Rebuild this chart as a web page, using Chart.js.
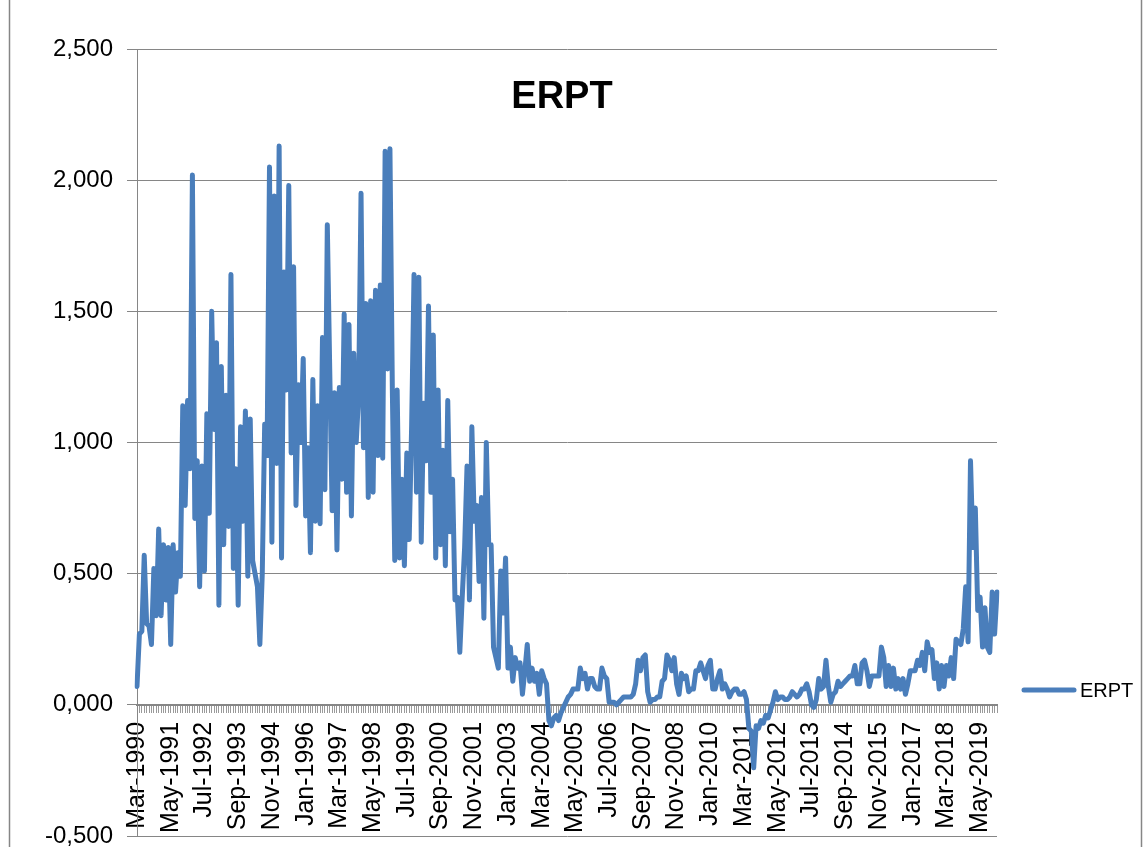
<!DOCTYPE html>
<html lang="en">
<head>
    <meta charset="UTF-8">
    <title>ERPT</title>
    <script src="https://cdn.jsdelivr.net/npm/chart.js"></script>
    <style>
        body {
            margin: 0;
            background-color: #fff;
        }
        #wrap {
            width: 1144px;
            height: 847px;
        }
    </style>
</head>
<body>
<div id="wrap"><canvas id="erptChart" width="1144" height="847"></canvas></div>
<script>
    // monthly series, Mar-1990 .. Dec-2019
    const monthNames = ['Jan', 'Feb', 'Mar', 'Apr', 'May', 'Jun', 'Jul', 'Aug', 'Sep', 'Oct', 'Nov', 'Dec'];
    const firstYear = 1990;
    const firstMonth = 2; // Mar

    const erpt1990s = [
        0.07, 0.27, 0.28, 0.57, 0.31, 0.30, 0.23, 0.52, 0.34, 0.67,
        0.34, 0.61, 0.40, 0.60, 0.23, 0.61, 0.43, 0.58, 0.49, 1.14, 0.76, 1.16,
        0.90, 2.02, 0.71, 0.93, 0.45, 0.91, 0.51, 1.11, 0.73, 1.50, 1.05, 1.38,
        0.38, 1.29, 0.61, 1.18, 0.68, 1.64, 0.52, 0.90, 0.38, 1.06, 0.70, 1.12,
        0.49, 1.09, 0.55, 0.50, 0.45, 0.23, 0.50, 1.07, 0.95, 2.05, 0.62, 1.94,
        0.92, 2.13, 0.56, 1.65, 1.20, 1.98, 0.96, 1.67, 0.76, 1.22, 1.00, 1.32,
        0.72, 0.98, 0.58, 1.24, 0.70, 1.14, 0.69, 1.40, 0.82, 1.83, 1.28, 0.74,
        1.19, 0.59, 1.21, 0.86, 1.49, 0.81, 1.45, 0.72, 1.34, 1.00, 1.18, 1.95,
        0.98, 1.53, 0.79, 1.54, 0.81, 1.58, 0.95, 1.60, 0.94, 2.11, 1.28, 2.12,
        1.20, 0.55, 1.20, 0.56, 0.86, 0.53, 0.96, 0.63, 1.06, 1.64, 0.81, 1.63
    ];
    const erpt2000s = [
        0.62, 1.15, 0.93, 1.52, 0.81, 1.41, 0.56, 1.20, 0.61, 0.97, 0.53, 1.16,
        0.66, 0.86, 0.40, 0.41, 0.20, 0.41, 0.60, 0.91, 0.40, 1.06, 0.70, 0.76,
        0.47, 0.79, 0.33, 1.00, 0.61, 0.61, 0.22, 0.18, 0.14, 0.51, 0.35, 0.56,
        0.14, 0.22, 0.09, 0.18, 0.14, 0.16, 0.04, 0.13, 0.23, 0.09, 0.14, 0.09,
        0.12, 0.04, 0.13, 0.10, 0.08, -0.06, -0.08, -0.05, -0.04, -0.06, -0.03, -0.01,
        0.01, 0.03, 0.04, 0.06, 0.06, 0.06, 0.14, 0.10, 0.12, 0.06, 0.10, 0.10,
        0.07, 0.06, 0.06, 0.14, 0.11, 0.10, 0.01, 0.01, 0.01, 0.00, 0.01, 0.02,
        0.03, 0.03, 0.03, 0.03, 0.04, 0.08, 0.17, 0.13, 0.18, 0.19, 0.05, 0.01,
        0.02, 0.02, 0.03, 0.03, 0.09, 0.10, 0.19, 0.17, 0.13, 0.18, 0.08, 0.04,
        0.12, 0.10, 0.11, 0.05, 0.06, 0.06, 0.13, 0.13, 0.16, 0.13, 0.10, 0.15
    ];
    const erpt2010s = [
        0.17, 0.06, 0.06, 0.10, 0.13, 0.06, 0.08, 0.06, 0.03, 0.05, 0.06, 0.06,
        0.04, 0.04, 0.05, 0.02, -0.09, -0.10, -0.24, -0.08, -0.09, -0.06, -0.07, -0.04,
        -0.05, -0.02, 0.01, 0.05, 0.02, 0.03, 0.03, 0.02, 0.02, 0.03, 0.05, 0.04,
        0.03, 0.04, 0.06, 0.06, 0.08, 0.05, 0.00, -0.01, 0.02, 0.10, 0.06, 0.07,
        0.17, 0.07, 0.01, 0.04, 0.05, 0.09, 0.07, 0.08, 0.09, 0.10, 0.11, 0.11,
        0.15, 0.08, 0.08, 0.16, 0.17, 0.13, 0.07, 0.11, 0.11, 0.11, 0.11, 0.22,
        0.18, 0.07, 0.15, 0.07, 0.14, 0.06, 0.10, 0.06, 0.10, 0.04, 0.08, 0.13,
        0.13, 0.13, 0.17, 0.15, 0.20, 0.13, 0.24, 0.20, 0.21, 0.10, 0.16, 0.06,
        0.15, 0.07, 0.15, 0.11, 0.18, 0.10, 0.25, 0.24, 0.23, 0.29, 0.45, 0.24,
        0.93, 0.60, 0.75, 0.36, 0.41, 0.22, 0.37, 0.22, 0.20, 0.43, 0.27, 0.43
    ];
    const erpt = erpt1990s.concat(erpt2000s, erpt2010s);

    // category labels, one per month
    const months = [];
    for (let i = 0; i < erpt.length; i++) {
        const m = firstMonth + i;
        months.push(monthNames[m % 12] + '-' + (firstYear + Math.floor(m / 12)));
    }
    const labelEvery = 14; // Mar-1990, May-1991, Jul-1992 ...

    const yMin = -0.5, yMax = 2.5, yStep = 0.5;

    const lineBlue = '#4a7ebb';
    const axisGray = '#868686';
    const font = '"Liberation Sans", Arial, sans-serif';

    const frame = {
        id: 'frame',
        beforeDraw(chart) {
            const ctx = chart.ctx;
            ctx.save();
            ctx.fillStyle = '#fff';
            ctx.fillRect(0, 0, chart.width, chart.height);
            // outer chart border (top/bottom lie outside the picture)
            ctx.strokeStyle = axisGray;
            ctx.lineWidth = 1.5;
            ctx.beginPath();
            ctx.moveTo(9.5, 0);
            ctx.lineTo(9.5, chart.height);
            ctx.moveTo(1141.5, 0);
            ctx.lineTo(1141.5, chart.height);
            ctx.stroke();
            ctx.restore();
        },
        afterDraw(chart) {
            const ctx = chart.ctx;
            ctx.save();
            // title sits inside the plot
            ctx.fillStyle = '#000';
            ctx.font = 'bold 38px ' + font;
            ctx.textAlign = 'center';
            ctx.textBaseline = 'middle';
            ctx.fillText('ERPT', 562, 98);
            // legend
            ctx.strokeStyle = lineBlue;
            ctx.lineWidth = 5;
            ctx.lineCap = 'round';
            ctx.beginPath();
            ctx.moveTo(1024, 690);
            ctx.lineTo(1074, 690);
            ctx.stroke();
            ctx.font = '20px ' + font;
            ctx.textAlign = 'left';
            ctx.fillText('ERPT', 1080, 691);
            ctx.restore();
        }
    };

    new Chart(document.getElementById('erptChart'), {
        type: 'line',
        data: {
            labels: months,
            datasets: [{
                label: 'ERPT',
                data: erpt,
                borderColor: lineBlue,
                backgroundColor: lineBlue,
                borderWidth: 5,
                borderJoinStyle: 'round',
                borderCapStyle: 'round',
                pointRadius: 0,
                tension: 0,
                fill: false
            }]
        },
        options: {
            responsive: false,
            animation: false,
            layout: {
                padding: { left: 0, right: 147, top: 49, bottom: 11 }
            },
            plugins: {
                legend: { display: false },
                title: { display: false },
                tooltip: { enabled: false }
            },
            scales: {
                x: {
                    position: { y: 0 },
                    offset: false,
                    grid: {
                        drawOnChartArea: false,
                        drawTicks: true,
                        tickLength: 7,
                        color: '#9a9a9a',
                        lineWidth: 1
                    },
                    border: { display: true, color: axisGray, width: 2 },
                    ticks: {
                        autoSkip: false,
                        minRotation: 90,
                        maxRotation: 90,
                        padding: 10,
                        color: '#000',
                        font: { family: font, size: 25 },
                        callback: function (value, index) {
                            return index % labelEvery === 0 ? months[index] : '';
                        }
                    },
                    afterFit(scale) {
                        scale.paddingLeft = 0;
                        scale.paddingRight = 0;
                    }
                },
                y: {
                    min: yMin,
                    max: yMax,
                    grid: {
                        color: axisGray,
                        lineWidth: 1,
                        drawTicks: true,
                        tickLength: 10
                    },
                    border: { display: true, color: axisGray, width: 1 },
                    ticks: {
                        stepSize: yStep,
                        padding: 14,
                        color: '#000',
                        font: { family: font, size: 24 },
                        callback: function (value) {
                            return value.toFixed(3).replace('.', ',');
                        }
                    },
                    afterFit(scale) {
                        scale.width = 137;
                        scale.paddingTop = 0;
                        scale.paddingBottom = 0;
                    }
                }
            }
        },
        plugins: [frame]
    });
</script>
</body>
</html>
